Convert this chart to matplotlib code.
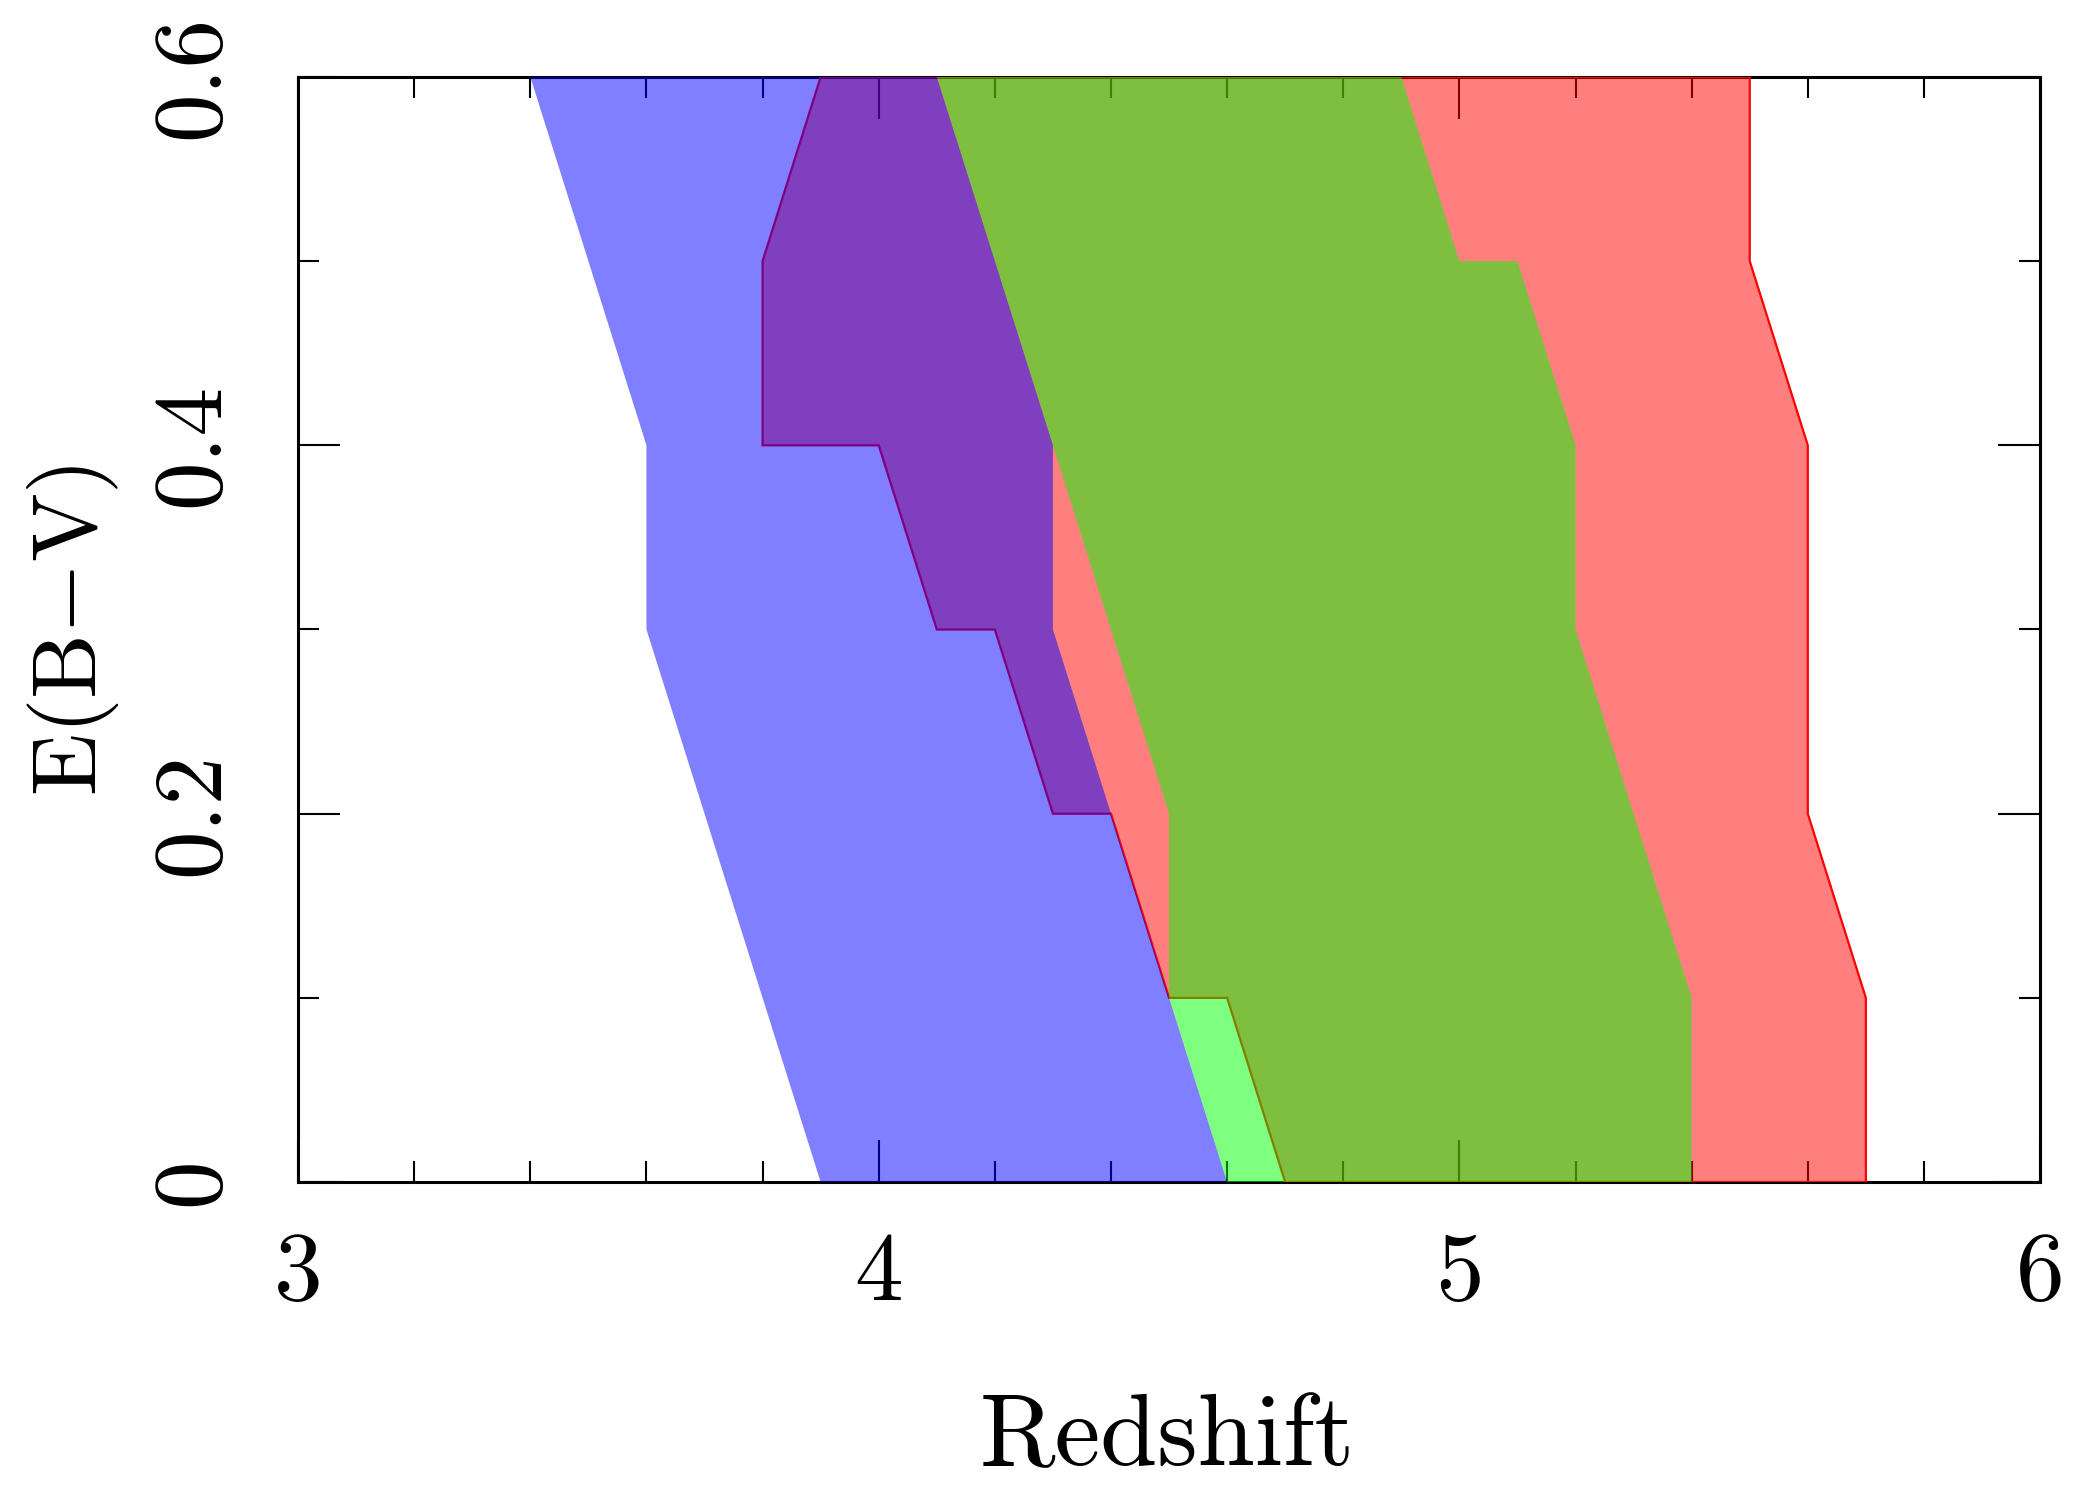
import matplotlib
matplotlib.use("Agg")
import matplotlib.pyplot as plt
from matplotlib.patches import Polygon
from matplotlib.ticker import MultipleLocator

plt.rcParams['font.family'] = 'serif'
plt.rcParams['font.serif'] = ['cmr10']
plt.rcParams['mathtext.fontset'] = 'cm'
plt.rcParams['axes.unicode_minus'] = False

# selection windows in (redshift, E(B-V)), one polygon per colour cut
red_z = [3.9, 3.8, 3.8, 4.0, 4.1, 4.2, 4.3, 4.4, 4.5, 4.6, 4.7, 5.7, 5.7, 5.6, 5.6, 5.5, 5.5]
red_ebv = [0.6, 0.5, 0.4, 0.4, 0.3, 0.3, 0.2, 0.2, 0.1, 0.1, 0.0, 0.0, 0.1, 0.2, 0.4, 0.5, 0.6]

green_z = [4.1, 4.3, 4.5, 4.5, 4.6, 5.4, 5.4, 5.2, 5.2, 5.1, 5.0, 4.9]
green_ebv = [0.6, 0.4, 0.2, 0.1, 0.0, 0.0, 0.1, 0.3, 0.4, 0.5, 0.5, 0.6]

blue_z = [3.4, 3.6, 3.6, 3.9, 4.6, 4.5, 4.4, 4.3, 4.3, 4.1]
blue_ebv = [0.6, 0.4, 0.3, 0.0, 0.0, 0.1, 0.2, 0.3, 0.4, 0.6]

xticks = [3, 4, 5, 6]
yticks = [0, 0.2, 0.4, 0.6]
yticklabels = ['0', '0.2', '0.4', '0.6']

fig = plt.figure(figsize=(10.4, 7.44), dpi=200)
ax = fig.add_axes([0.1433, 0.2056, 0.8375, 0.7427])

ax.add_patch(Polygon(list(zip(red_z, red_ebv)), closed=True,
                     facecolor=(1, 0, 0, 0.5), edgecolor='red', linewidth=0.8, zorder=5))
ax.add_patch(Polygon(list(zip(green_z, green_ebv)), closed=True,
                     facecolor=(0, 1, 0, 0.5), edgecolor='none', zorder=5))
ax.add_patch(Polygon(list(zip(blue_z, blue_ebv)), closed=True,
                     facecolor=(0, 0, 1, 0.5), edgecolor='none', zorder=5))

ax.set_xlim(3, 6)
ax.set_ylim(0, 0.6)

ax.set_xticks(xticks)
ax.set_xticklabels([str(t) for t in xticks], fontsize=35)
ax.set_yticks(yticks)
ax.set_yticklabels(yticklabels, fontsize=35, rotation=90, va='center')
ax.xaxis.set_minor_locator(MultipleLocator(0.2))
ax.yaxis.set_minor_locator(MultipleLocator(0.1))

ax.tick_params(which='both', direction='in', top=True, right=True, color='black')
ax.tick_params(which='major', length=15, width=0.75)
ax.tick_params(which='minor', length=7.5, width=0.75)
ax.tick_params(axis='x', which='major', pad=18)
ax.tick_params(axis='y', which='major', pad=22)

for s in ax.spines.values():
    s.set_linewidth(1.1)
    s.set_zorder(2)

fig.text(1167 / 2080, 1 - 1440 / 1488, 'Redshift', fontsize=37, ha='center', va='center')
fig.text(73 / 2080, 1 - 630 / 1488, r'$\mathrm{E(B{-}V)}$', fontsize=33,
         rotation=90, ha='center', va='center')

fig.savefig('out.png', dpi=200)
